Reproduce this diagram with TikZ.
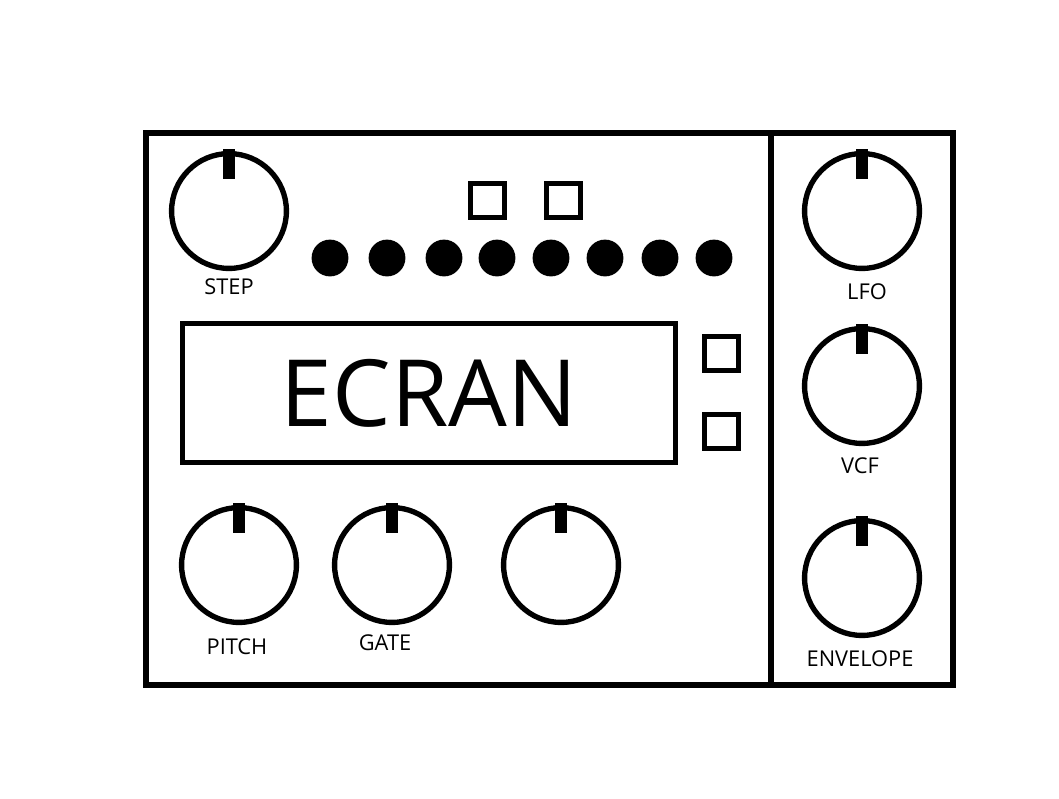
\documentclass[tikz,border=0pt]{standalone}
\usepackage{fontspec}
\setmainfont{Open Sans}
\usetikzlibrary{positioning}

\tikzset{
  knob/.style={circle, draw, line width=3.8pt, minimum size=2.87cm, inner sep=0pt},
  led/.style={circle, fill, minimum size=0.92cm, inner sep=0pt},
  btn/.style={rectangle, draw, line width=3.8pt, minimum size=0.85cm, inner sep=0pt},
  lbl/.style={font=\fontsize{15.5}{18}\selectfont},
}

\begin{document}
\begin{tikzpicture}[x=0.025cm,y=-0.025cm]
  \useasboundingbox (0,0) rectangle (1059,798);
  % panel
  \draw[line width=4.5pt] (146,133) rectangle (953,685);
  \draw[line width=4.5pt] (771,133) -- (771,685);
  % knobs
  \foreach \name/\x/\y in {step/229/211, pitch/239/565, gate/392/565, third/561/565,
                           lfo/862/211, vcf/862/386, env/862/578} {
    \node[knob] (\name) at (\x,\y) {};
    \fill ([xshift=-0.15cm,yshift=0.06cm]\name.north) rectangle ([xshift=0.15cm,yshift=-0.7cm]\name.north);
  }
  \node[lbl] (steplabel) at (229,287) {STEP};
  \node[lbl] (pitchlabel) at (237,647) {PITCH};
  \node[lbl] (gatelabel) at (385,643) {GATE};
  \node[lbl] (lfolabel) at (867,292) {LFO};
  \node[lbl] (vcflabel) at (860,466) {VCF};
  \node[lbl] (envlabel) at (860,659) {ENVELOPE};
  % leds
  \foreach \x [count=\i] in {330,387,444,497,551,605,660,714}
    \node[led] (led\i) at (\x,258) {};
  % buttons
  \node[btn] (btna) at (487.5,200.5) {};
  \node[btn] (btnb) at (563.5,200.5) {};
  \node[btn] (btnc) at (721.5,353.5) {};
  \node[btn] (btnd) at (721.5,431.5) {};
  % screen
  \node[draw, line width=3.8pt, minimum width=12.33cm, minimum height=3.48cm,
        inner sep=0pt, font=\fontsize{66}{72}\selectfont] (ecran) at (429,393) {ECRAN};
\end{tikzpicture}
\end{document}
